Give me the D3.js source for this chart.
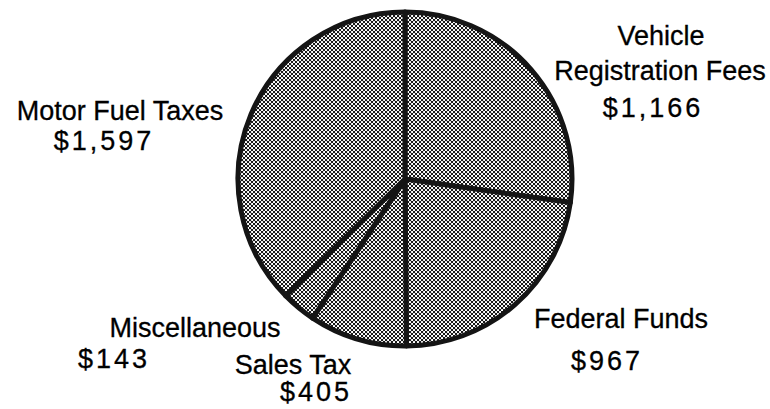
<!DOCTYPE html>
<html>
<head>
<meta charset="utf-8">
<script src="https://cdn.jsdelivr.net/npm/d3@7"></script>
<style>
  body { margin: 0; background: #fff; }
  svg { display: block; }
</style>
</head>
<body>
<div id="chart"></div>
<script>
// Revenue sources (clockwise from 12 o'clock)
const categories = ["Vehicle Registration Fees", "Federal Funds", "Sales Tax", "Miscellaneous", "Motor Fuel Taxes"];
const values = [1166, 967, 405, 143, 1597];
const nameLines = [["Vehicle", "Registration Fees"], ["Federal Funds"], ["Sales Tax"], ["Miscellaneous"], ["Motor Fuel Taxes"]];
const valueLabels = ["$1,166", "$967", "$405", "$143", "$1,597"];

// label placement (layout only)
const labelLayout = [
  { names: [[661, 45], [660, 80]], value: [653, 117] },
  { names: [[621, 328]], value: [607, 370] },
  { names: [[293, 374]], value: [316, 401] },
  { names: [[195, 337]], value: [114, 368] },
  { names: [[120, 120]], value: [104, 150] }
];

const width = 770, height = 409;
const cx = 405, cy = 179, radius = 167;

const svg = d3.select("#chart")
  .append("svg")
  .attr("width", width)
  .attr("height", height);

// halftone fill
const pattern = svg.append("defs")
  .append("pattern")
  .attr("id", "dots")
  .attr("patternUnits", "userSpaceOnUse")
  .attr("width", 4)
  .attr("height", 4);
pattern.append("rect").attr("width", 4).attr("height", 4).attr("fill", "#fff");
pattern.append("rect").attr("x", 0).attr("y", 0).attr("width", 2.1).attr("height", 2.1).attr("fill", "#1a1a1a");
pattern.append("rect").attr("x", 2).attr("y", 2).attr("width", 2.1).attr("height", 2.1).attr("fill", "#1a1a1a");

const pie = d3.pie().sort(null).value(d => d);
const arc = d3.arc().innerRadius(0).outerRadius(radius);

const g = svg.append("g").attr("transform", `translate(${cx},${cy})`);

g.selectAll(".slice")
  .data(pie(values))
  .enter()
  .append("path")
  .attr("class", "slice")
  .attr("d", arc)
  .attr("fill", "url(#dots)")
  .attr("stroke", "#151515")
  .attr("stroke-width", 5)
  .attr("stroke-linejoin", "round");

// labels
const font = "'Liberation Sans', Arial, Helvetica, sans-serif";
labelLayout.forEach((lay, i) => {
  nameLines[i].forEach((line, j) => {
    svg.append("text")
      .attr("x", lay.names[j][0])
      .attr("y", lay.names[j][1])
      .attr("text-anchor", "middle")
      .attr("font-family", font)
      .attr("font-size", "27px")
      .attr("fill", "#000")
      .attr("stroke", "#000")
      .attr("stroke-width", 0.3)
      .text(line);
  });
  svg.append("text")
    .attr("x", lay.value[0])
    .attr("y", lay.value[1])
    .attr("text-anchor", "middle")
    .attr("font-family", font)
    .attr("font-size", "27px")
    .attr("letter-spacing", "3px")
    .attr("fill", "#000")
    .attr("stroke", "#000")
    .attr("stroke-width", 0.3)
    .text(valueLabels[i]);
});
</script>
</body>
</html>
